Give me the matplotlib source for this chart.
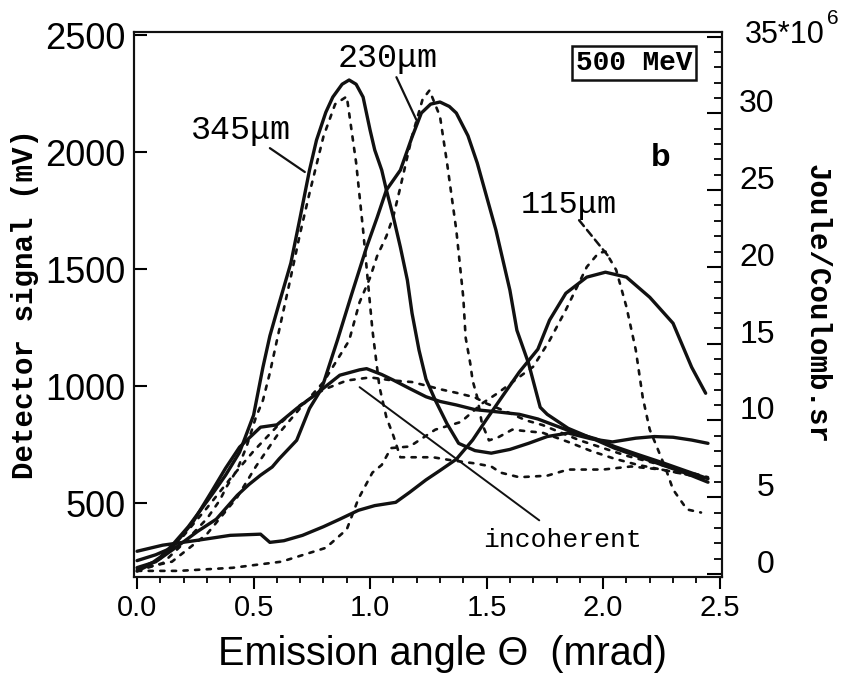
import matplotlib
matplotlib.use('Agg')
import matplotlib.pyplot as plt
import numpy as np
from matplotlib.ticker import FixedLocator, MultipleLocator

plt.rcParams['font.family'] = ['Liberation Sans', 'DejaVu Sans']
MONO = ['Liberation Mono', 'DejaVu Sans Mono']

# ---- measured detector signal (mV), left axis ----
s345_x = [0.00,0.05,0.10,0.15,0.22,0.32,0.38,0.44,0.50,0.54,0.57,0.61,0.66,0.70,0.74,0.77,0.81,0.84,0.88,0.91,0.94,0.97,1.00,1.02,1.05,1.07,1.10,1.13,1.16,1.18,1.21,1.24,1.28,1.33,1.38,1.45,1.52,1.60,1.68,1.76,1.85,1.95,2.04,2.14,2.22,2.30,2.38,2.45]
s345_mv = [210,235,270,320,400,535,620,718,876,1080,1215,1355,1526,1722,1923,2051,2170,2235,2290,2308,2290,2235,2094,2009,1923,1838,1722,1594,1453,1312,1154,1030,940,840,756,725,714,730,756,785,800,775,762,778,785,782,770,756]

s230_x = [0.00,0.08,0.18,0.26,0.34,0.43,0.48,0.53,0.58,0.61,0.685,0.74,0.78,0.80,0.86,0.92,0.985,1.03,1.07,1.13,1.18,1.22,1.26,1.30,1.34,1.37,1.42,1.46,1.50,1.54,1.60,1.63,1.68,1.73,1.76,1.85,1.97,2.05,2.15,2.25,2.35,2.45]
s230_mv = [225,250,321,380,432,534,580,620,655,690,769,905,970,1013,1197,1390,1594,1720,1838,1923,2064,2167,2205,2214,2195,2167,2070,1953,1810,1667,1410,1239,1098,910,880,820,770,735,700,665,630,590]

sinc_x = [0.00,0.08,0.15,0.24,0.32,0.38,0.44,0.53,0.60,0.685,0.77,0.87,0.955,0.985,1.05,1.10,1.17,1.24,1.30,1.37,1.45,1.55,1.64,1.72,1.80,1.88,1.97,2.05,2.15,2.25,2.35,2.45]
sinc_mv = [255,280,310,420,550,650,740,825,835,905,968,1047,1070,1075,1050,1026,990,955,935,920,900,890,880,860,830,800,775,742,708,675,640,605]

s115_x = [0.00,0.11,0.26,0.40,0.53,0.57,0.63,0.71,0.80,0.87,0.95,1.02,1.11,1.17,1.24,1.30,1.37,1.44,1.50,1.57,1.64,1.72,1.77,1.84,1.93,2.01,2.10,2.20,2.30,2.38,2.44]
s115_mv = [295,321,342,363,368,333,340,363,400,432,470,490,504,547,600,640,688,770,859,960,1060,1158,1282,1397,1466,1487,1466,1380,1269,1081,970]

# ---- calculated (Joule/Coulomb.sr, units of 1e6), right axis ----
d345_x = [0.00,0.11,0.20,0.30,0.355,0.385,0.43,0.47,0.51,0.54,0.57,0.60,0.655,0.70,0.74,0.80,0.85,0.90,0.94,0.97,1.01,1.04,1.07,1.10,1.13,1.20,1.27,1.35,1.45,1.52,1.56,1.64,1.76,1.85,2.00,2.12,2.25,2.35,2.45]
d345_j = [0.2,0.7,2.0,3.6,4.8,5.7,6.8,8.3,10.2,11.3,13.1,15.2,19.0,22.2,24.8,28.5,30.6,31.1,26.8,22.4,15.9,12.2,10.2,9.0,7.6,7.6,7.6,7.4,7.2,7.0,6.6,6.3,6.4,6.8,6.8,7.0,6.8,6.5,6.2]

d230_x = [0.00,0.15,0.30,0.43,0.51,0.60,0.70,0.80,0.91,0.955,1.00,1.03,1.07,1.10,1.13,1.18,1.225,1.255,1.30,1.33,1.35,1.37,1.40,1.41,1.43,1.44,1.46,1.48,1.51,1.55,1.61,1.67,1.74,1.85,1.95,2.05,2.15,2.25,2.35,2.45]
d230_j = [0.3,0.8,2.6,5.0,7.0,9.0,10.8,12.5,15.2,17.7,19.3,20.7,22.0,23.3,25.2,28.5,30.9,31.5,29.8,26.8,24.6,22.4,18.0,15.4,13.7,12.6,11.5,9.8,8.7,8.9,9.4,9.3,9.2,8.6,8.0,7.5,7.1,6.8,6.5,6.2]

dinc_x = [0.00,0.10,0.20,0.30,0.40,0.50,0.60,0.70,0.80,0.90,1.00,1.10,1.18,1.31,1.37,1.45,1.50,1.58,1.67,1.74,1.82,1.90,2.00,2.10,2.20,2.30,2.45]
dinc_j = [0.3,1.0,2.5,4.3,6.2,8.0,9.6,11.0,12.0,12.6,12.8,12.6,12.5,12.0,11.8,11.5,11.1,10.6,10.0,9.7,9.2,8.7,8.2,7.7,7.3,6.9,6.3]

d115_x = [0.00,0.18,0.41,0.62,0.81,0.90,0.95,1.01,1.05,1.09,1.17,1.28,1.39,1.48,1.55,1.62,1.70,1.77,1.84,1.93,1.98,2.01,2.056,2.10,2.14,2.17,2.20,2.23,2.27,2.30,2.36,2.42]
d115_j = [0.2,0.2,0.4,0.8,1.7,2.9,4.9,6.6,7.1,8.2,8.3,9.4,9.9,11.1,11.8,12.6,13.5,15.2,17.2,20.0,20.9,21.0,19.8,17.4,14.6,11.5,9.4,8.3,6.8,5.5,4.2,4.0]

x_ticks = [0.0, 0.5, 1.0, 1.5, 2.0, 2.5]
x_ticklabels = ['0.0', '0.5', '1.0', '1.5', '2.0', '2.5']
left_ticks = [500, 1000, 1500, 2000, 2500]
right_ticks = [0, 5, 10, 15, 20, 25, 30, 35]
right_ticklabels = ['0', '5', '10', '15', '20', '25', '30', '35*10']

fig = plt.figure(figsize=(8.45, 6.87), dpi=100)
ax = fig.add_axes([0.1586, 0.1601, 0.6958, 0.7933])
ax2 = ax.twinx()

K = '#111111'
SLW = 2.4
for xs, ys in [(s345_x, s345_mv), (s230_x, s230_mv), (sinc_x, sinc_mv), (s115_x, s115_mv)]:
    ax.plot(xs, ys, color=K, lw=SLW, solid_capstyle='round', solid_joinstyle='round')
for xs, ys in [(d345_x, d345_j), (d230_x, d230_j), (dinc_x, dinc_j), (d115_x, d115_j)]:
    ax2.plot(xs, ys, color=K, lw=1.9, dashes=(1.6, 2.8), dash_capstyle='round')

ax.set_xlim(-0.013, 2.51)
ax.set_ylim(185, 2513)
ax2.set_ylim(-0.2, 35.3)

for a in (ax, ax2):
    for s in a.spines.values():
        s.set_linewidth(1.5)
        s.set_color(K)

ax.set_xticks(x_ticks)
ax.set_xticklabels(x_ticklabels)
ax.xaxis.set_minor_locator(MultipleLocator(0.1))
ax.tick_params(axis='x', which='major', direction='out', length=8.5, width=1.5, pad=4, labelsize=21, top=False)
ax.tick_params(axis='x', which='minor', direction='out', length=4.5, width=1.3, top=False)
ax.set_yticks(left_ticks)
ax.set_yticklabels([str(v) for v in left_ticks])
ax.tick_params(axis='y', which='major', direction='in', length=9.5, width=1.5, pad=6, labelsize=26, right=False)

ax2.set_yticks(right_ticks)
ax2.yaxis.set_minor_locator(MultipleLocator(1))
ax2.tick_params(axis='y', which='major', direction='in', length=11, width=1.5, labelright=False)
ax2.tick_params(axis='y', which='minor', direction='in', length=5.5, width=1.3)

# right tick labels (drawn slightly above their ticks as in the original)
for v, lbl in zip(right_ticks, right_ticklabels):
    if lbl.startswith('35'):
        ax2.annotate(lbl, xy=(1, v), xycoords=('axes fraction', 'data'), xytext=(16.5, 1),
                     textcoords='offset points', ha='left', va='center', fontsize=22)
        ax2.annotate('6', xy=(1, v), xycoords=('axes fraction', 'data'), xytext=(80, 13),
                     textcoords='offset points', ha='center', va='center', fontsize=15)
    else:
        ax2.annotate(lbl, xy=(1, v), xycoords=('axes fraction', 'data'), xytext=(38, 6.5),
                     textcoords='offset points', ha='right', va='center', fontsize=23)

# axis labels
fig.text(443/845, 1 - 665/687, 'Emission angle Θ  (mrad)', ha='center', va='baseline', fontsize=28.5)
fig.text(25/845, 1 - 304/687, 'Detector signal (mV)', rotation=90, ha='center', va='center',
         fontsize=21, family=MONO, fontweight='bold')
fig.text(817/845, 1 - 304/687, 'Joule/Coulomb.sr', rotation=-90, ha='center', va='center',
         fontsize=21, family=MONO, fontweight='bold')

# annotations
ax.text(0.1819, 0.8202, '345μm', transform=ax.transAxes, ha='center', va='center',
        fontsize=24, family=MONO)
ax.text(0.4320, 0.9523, '230μm', transform=ax.transAxes, ha='center', va='center',
        fontsize=24, family=MONO)
ax.text(0.7398, 0.6826, '115μm', transform=ax.transAxes, ha='center', va='center',
        fontsize=23, family=MONO)
ax.text(0.7296, 0.0679, 'incoherent', transform=ax.transAxes, ha='center', va='center',
        fontsize=19, family=MONO)
ax.text(0.8963, 0.7688, 'b', transform=ax.transAxes, ha='center', va='center',
        fontsize=23, fontweight='bold', family=['Liberation Sans', 'DejaVu Sans'])
ax.text(0.8503, 0.9431, '500 MeV', transform=ax.transAxes, ha='center', va='center',
        fontsize=20, family=MONO, fontweight='bold',
        bbox=dict(boxstyle='square,pad=0.15', fc='white', ec=K, lw=1.8))

# leader lines
ax.annotate('', xy=(0.72, 1915), xytext=(0.57, 2017),
            arrowprops=dict(arrowstyle='-', lw=1.6, color=K, shrinkA=0, shrinkB=0))
ax.annotate('', xy=(1.199, 2137), xytext=(1.113, 2320),
            arrowprops=dict(arrowstyle='-', lw=1.6, color=K, shrinkA=0, shrinkB=0))
ax.annotate('', xy=(2.026, 1551), xytext=(1.897, 1709),
            arrowprops=dict(arrowstyle='-', lw=1.8, ls=(0, (3, 2)), color=K, shrinkA=0, shrinkB=0))
ax.annotate('', xy=(1.726, 427), xytext=(0.955, 996),
            arrowprops=dict(arrowstyle='-', lw=1.4, color=K, shrinkA=0, shrinkB=0))

fig.savefig('out.png', dpi=100)
